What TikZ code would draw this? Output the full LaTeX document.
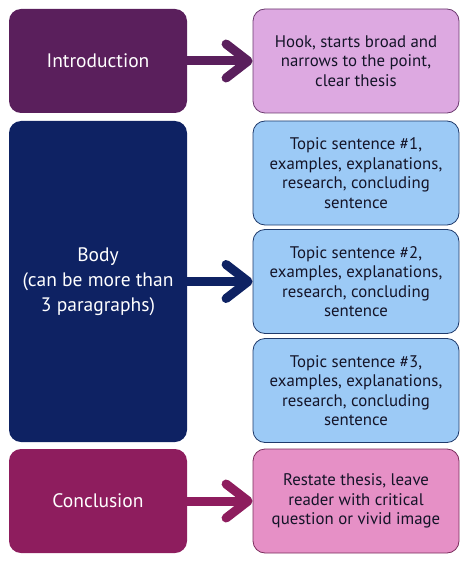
\documentclass[tikz,border=0pt]{standalone}
\usepackage{fontspec}
\setmainfont{PT Sans}
\usepackage{xcolor}
\usepackage{tikz}
\usetikzlibrary{arrows.meta,positioning}

\definecolor{introcol}{HTML}{5A1F5C}
\definecolor{hookcol}{HTML}{DDA9E1}
\definecolor{hookline}{HTML}{6B3A6E}
\definecolor{bodycol}{HTML}{0E2263}
\definecolor{topiccol}{HTML}{9CCAF6}
\definecolor{topicline}{HTML}{1F3A6B}
\definecolor{conccol}{HTML}{8E1D5E}
\definecolor{restcol}{HTML}{E690C6}
\definecolor{restline}{HTML}{7A2D5C}
\definecolor{inktext}{HTML}{141428}

\begin{document}
\begin{tikzpicture}[
    x=1pt, y=-1pt,
    darkbox/.style={rectangle, rounded corners=12pt, minimum width=178pt, align=center,
        text=white, font=\fontsize{19.5}{25}\selectfont, inner sep=0pt},
    lightbox/.style={rectangle, rounded corners=12pt, minimum width=206pt, minimum height=104pt,
        align=center, text=inktext, line width=0.8pt, font=\fontsize{16.8}{19.5}\selectfont, inner sep=0pt},
    arrow/.style={line width=9pt, -{Straight Barb[length=22pt, width=34pt, round]}}
]
\useasboundingbox (0,0) rectangle (469,564);

% Left column
\node[darkbox, fill=introcol, minimum height=104pt] (intro) at (98,61) {Introduction};
\node[darkbox, fill=bodycol, minimum height=321pt] (body) at (98,281.5) {Body\\(can be more than\\3 paragraphs)};
\node[darkbox, fill=conccol, minimum height=104pt] (conc) at (98,501) {Conclusion};

% Right column
\node[lightbox, fill=hookcol, draw=hookline] (hook) at (356,61)
    {Hook, starts broad and\\narrows to the point,\\clear thesis};
\node[lightbox, fill=topiccol, draw=topicline] (topic1) at (356,173)
    {Topic sentence \#1,\\examples, explanations,\\research, concluding\\sentence};
\node[lightbox, fill=topiccol, draw=topicline] (topic2) at (356,281.5)
    {Topic sentence \#2,\\examples, explanations,\\research, concluding\\sentence};
\node[lightbox, fill=topiccol, draw=topicline] (topic3) at (356,390.5)
    {Topic sentence \#3,\\examples, explanations,\\research, concluding\\sentence};
\node[lightbox, fill=restcol, draw=restline] (rest) at (356,501)
    {Restate thesis, leave\\reader with critical\\question or vivid image};

% Arrows
\draw[arrow, draw=introcol] (intro.east) -- (hook.west);
\draw[arrow, draw=bodycol] (body.east) -- (topic2.west);
\draw[arrow, draw=conccol] (conc.east) -- (rest.west);

\end{tikzpicture}
\end{document}
